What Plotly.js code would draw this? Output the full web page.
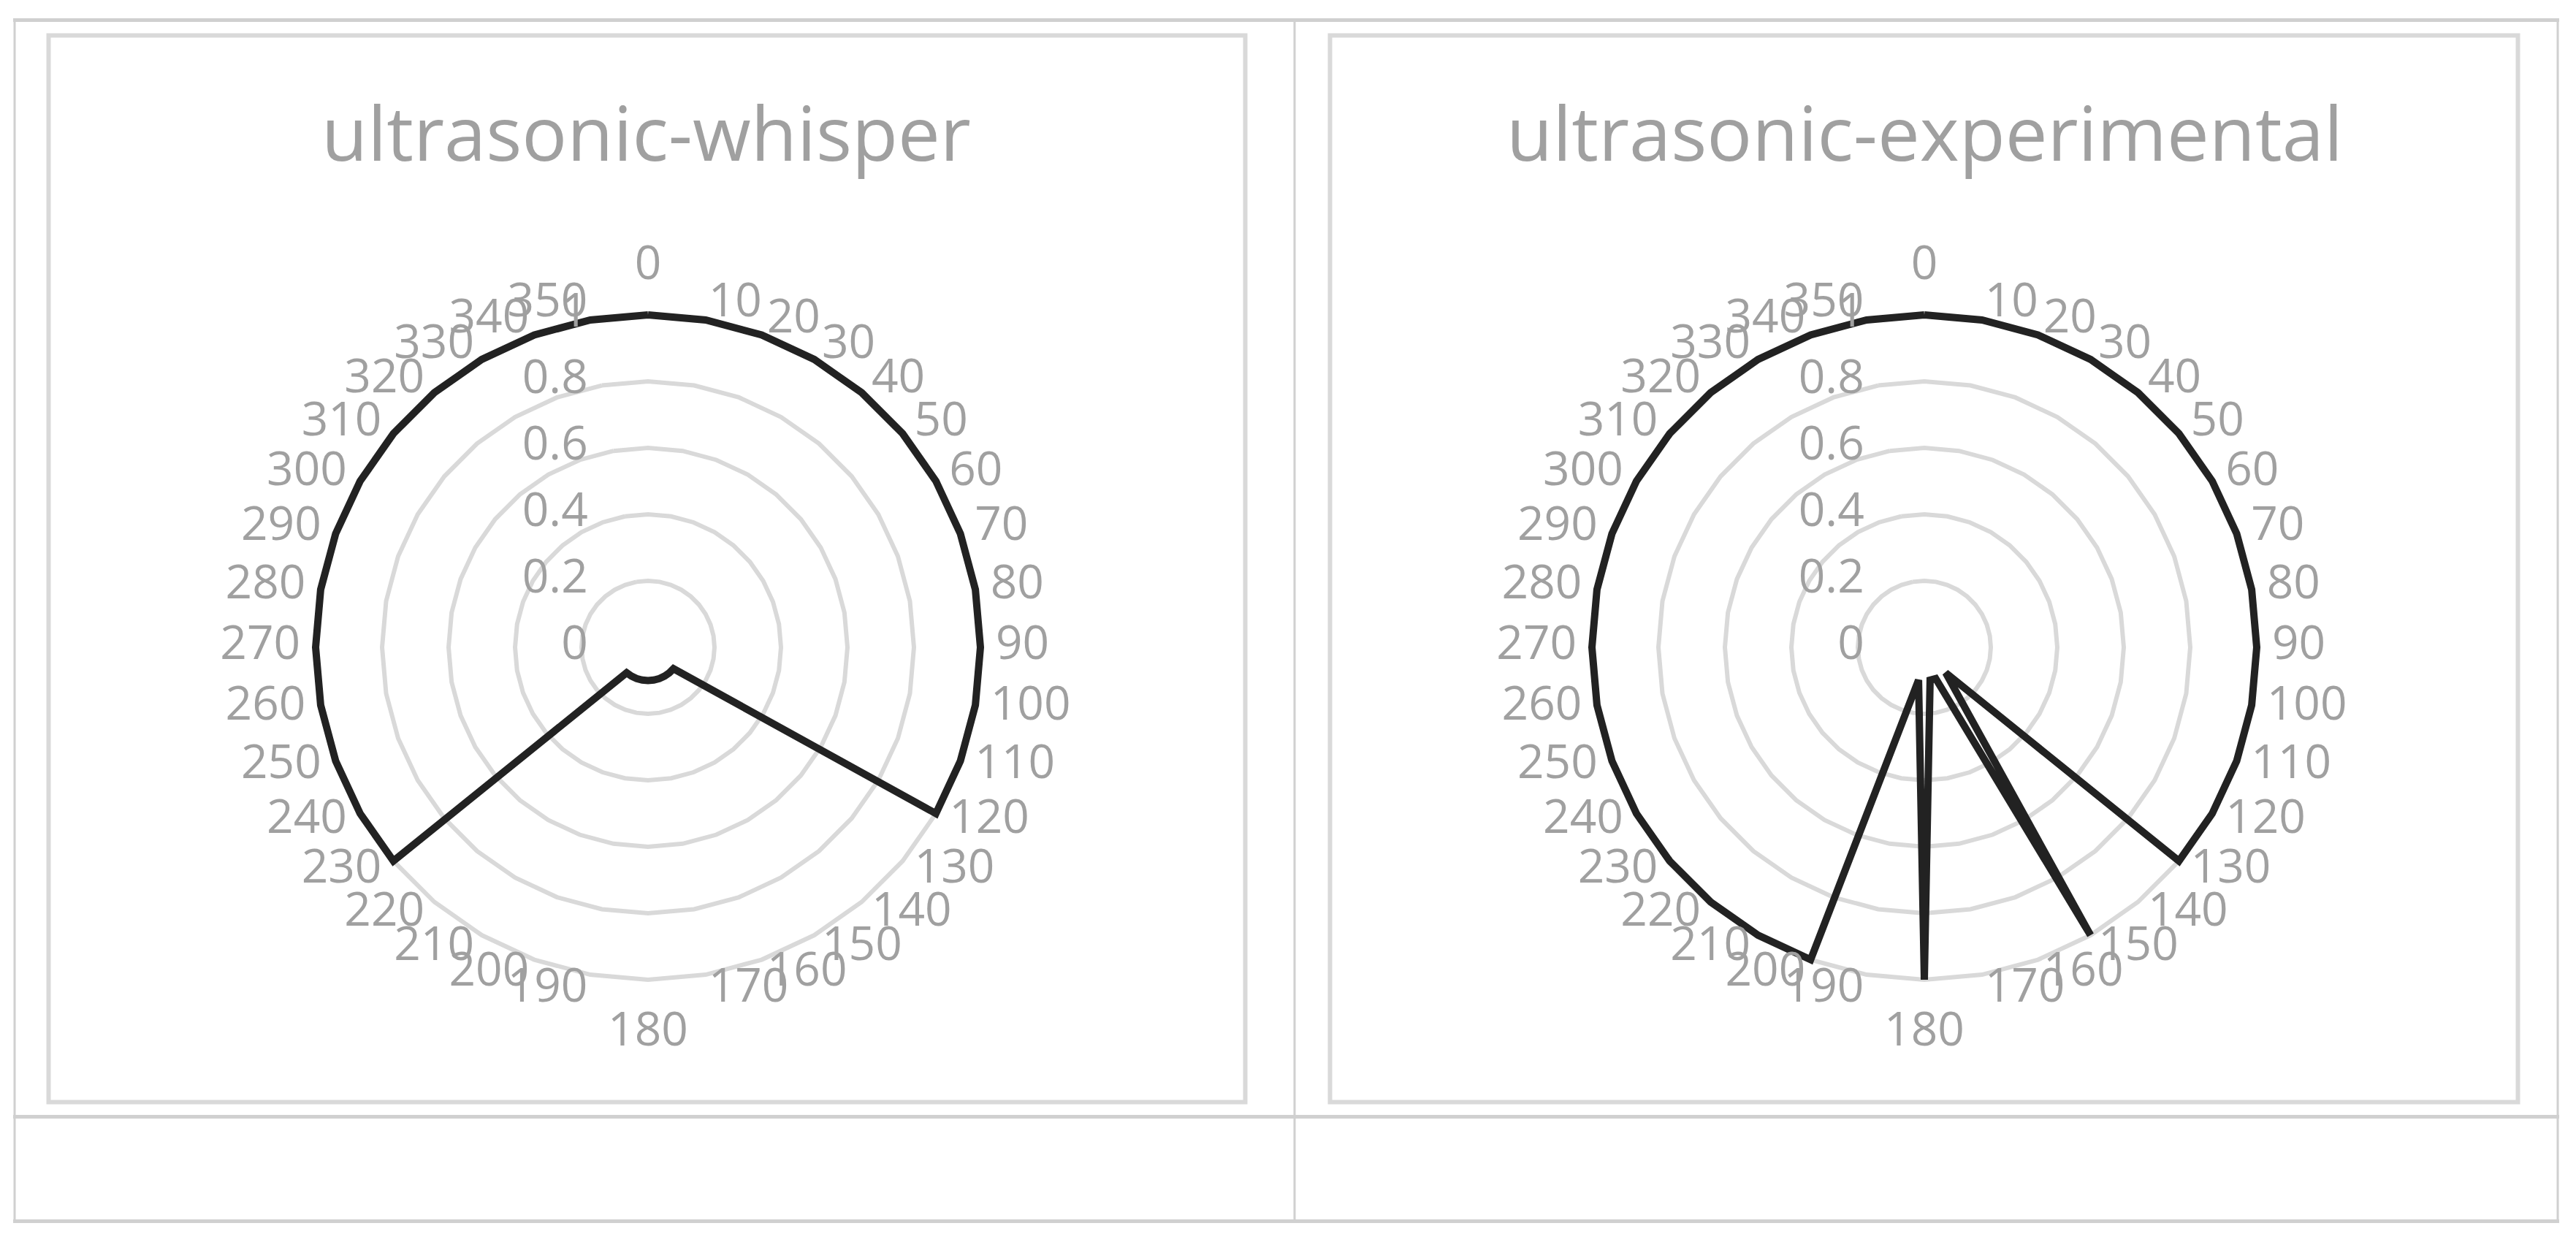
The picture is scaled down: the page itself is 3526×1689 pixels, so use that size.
<!DOCTYPE html>
<html>
<head>
<meta charset="utf-8">
<script src="https://cdn.plot.ly/plotly-3.0.1.min.js"></script>
<style>
  html, body { margin: 0; padding: 0; background: #ffffff; }
  #chart { width: 3526px; height: 1689px; }
</style>
</head>
<body>
<div id="chart"></div>
<script>
// ---- Data ----
const categories = ['0','10','20','30','40','50','60','70','80','90','100','110',
  '120','130','140','150','160','170','180','190','200','210','220','230',
  '240','250','260','270','280','290','300','310','320','330','340','350'];

const whisperValues = [1,1,1,1,1,1,1,1,1,1,1,1,
  1,0.1,0.1,0.1,0.1,0.1,0.1,0.1,0.1,0.1,0.1,1,
  1,1,1,1,1,1,1,1,1,1,1,1];

const experimentalValues = [1,1,1,1,1,1,1,1,1,1,1,1,
  1,1,0.1,1,0.1,0.1,1,0.1,1,1,1,1,
  1,1,1,1,1,1,1,1,1,1,1,1];

const titles = ['ultrasonic-whisper', 'ultrasonic-experimental'];
const radialTicks = [0, 0.2, 0.4, 0.6, 0.8, 1];
const radialTickText = ['0', '0.2', '0.4', '0.6', '0.8', '1'];

// ---- Helpers / style ----
const W = 3526, H = 1689;
const px = x => x / W;
const py = y => 1 - y / H;
function closed(arr) { return arr.concat([arr[0]]); }

const RMAX = 1.1;            // room for the angular labels
const R_PX = 455;            // pixel radius of value 1
const labelFont = { family: 'Open Sans, sans-serif', size: 64, color: '#a0a0a0' };
const gridColor = '#d9d9d9';

// placement of the category labels (Excel-like: outside the outer ring)
const angLabelR = categories.map(c => c === '0' ? 1.073 : (c === '180' ? 1.092 : 1.046));
const angLabelPos = categories.map(c => {
  const a = Number(c);
  if (a === 0) return 'top center';
  if (a === 180) return 'bottom center';
  return a < 180 ? 'middle right' : 'middle left';
});
// radial labels sit on the 0 spoke; a negligible nudge keeps the "0" label
// from being treated as lying in the (empty) polar hole
const radialLabelR = radialTicks.map(v => v + 1e-4);

function polarLayout(cx, cy) {
  const r = R_PX * RMAX;
  return {
    domain: { x: [px(cx - r), px(cx + r)], y: [py(cy + r), py(cy - r)] },
    bgcolor: 'rgba(0,0,0,0)',
    gridshape: 'linear',
    angularaxis: {
      type: 'category',
      categoryorder: 'array',
      categoryarray: categories,
      direction: 'clockwise',
      rotation: 90,
      showgrid: false,
      showline: false,
      ticks: '',
      showticklabels: false
    },
    radialaxis: {
      angle: 90,
      range: [0, RMAX],
      tickmode: 'array',
      tickvals: radialTicks.filter(v => v > 0),
      showline: false,
      showgrid: true,
      gridcolor: gridColor,
      gridwidth: 6,
      layer: 'below traces',
      ticks: '',
      showticklabels: false
    }
  };
}

const lineStyle = { color: '#222222', width: 10 };

function seriesTrace(values, subplot) {
  return {
    type: 'scatterpolar', mode: 'lines', cliponaxis: false,
    theta: closed(categories), r: closed(values),
    line: lineStyle, subplot: subplot, showlegend: false, hoverinfo: 'skip'
  };
}
function angularLabels(subplot) {
  return {
    type: 'scatterpolar', mode: 'text', cliponaxis: false,
    theta: categories, r: angLabelR, text: categories,
    textposition: angLabelPos, textfont: labelFont,
    subplot: subplot, showlegend: false, hoverinfo: 'skip'
  };
}
function radialLabels(subplot) {
  return {
    type: 'scatterpolar', mode: 'markers+text', cliponaxis: false,
    theta: radialTicks.map(() => categories[0]), r: radialLabelR, text: radialTickText,
    textposition: 'middle left', textfont: labelFont,
    marker: { size: 130, opacity: 0, color: '#ffffff' },
    subplot: subplot, showlegend: false, hoverinfo: 'skip'
  };
}

const traces = [
  seriesTrace(whisperValues, 'polar'),
  angularLabels('polar'),
  radialLabels('polar'),
  seriesTrace(experimentalValues, 'polar2'),
  angularLabels('polar2'),
  radialLabels('polar2')
];

// cell grid + chart boxes (decoration)
function hline(x0, x1, y, w, c) {
  return { type: 'line', xref: 'paper', yref: 'paper', x0: px(x0), x1: px(x1), y0: py(y), y1: py(y),
           line: { color: c, width: w }, layer: 'below' };
}
function vline(x, y0, y1, w, c) {
  return { type: 'line', xref: 'paper', yref: 'paper', x0: px(x), x1: px(x), y0: py(y0), y1: py(y1),
           line: { color: c, width: w }, layer: 'below' };
}
function rect(x0, y0, x1, y1, w, c) {
  return { type: 'rect', xref: 'paper', yref: 'paper', x0: px(x0), x1: px(x1), y0: py(y1), y1: py(y0),
           line: { color: c, width: w }, fillcolor: 'rgba(0,0,0,0)', layer: 'below' };
}
const cellColor = '#d0d0d0';
const shapes = [
  hline(18, 3503, 27.5, 5, cellColor),
  hline(18, 3503, 1528.5, 5, cellColor),
  hline(18, 3503, 1671.5, 5, cellColor),
  vline(20, 25, 1674, 3, cellColor),
  vline(1772, 25, 1674, 3, cellColor),
  vline(3501, 25, 1674, 3, cellColor),
  rect(66.5, 48.5, 1704.5, 1508.5, 6, gridColor),
  rect(1820.5, 48.5, 3446.5, 1508.5, 6, gridColor)
];

const titleFont = { family: 'Open Sans, sans-serif', size: 103, color: '#a0a0a0' };
const annotations = [
  { text: titles[0], xref: 'paper', yref: 'paper', x: px(884), y: py(180), xanchor: 'center', yanchor: 'middle',
    showarrow: false, font: titleFont },
  { text: titles[1], xref: 'paper', yref: 'paper', x: px(2634), y: py(180), xanchor: 'center', yanchor: 'middle',
    showarrow: false, font: titleFont }
];

const layout = {
  width: W, height: H,
  margin: { l: 0, r: 0, t: 0, b: 0, pad: 0 },
  paper_bgcolor: '#ffffff',
  plot_bgcolor: '#ffffff',
  showlegend: false,
  polar: polarLayout(887, 886),
  polar2: polarLayout(2634, 886),
  shapes: shapes,
  annotations: annotations
};

Plotly.newPlot('chart', traces, layout, { displayModeBar: false, staticPlot: true });
</script>
</body>
</html>
